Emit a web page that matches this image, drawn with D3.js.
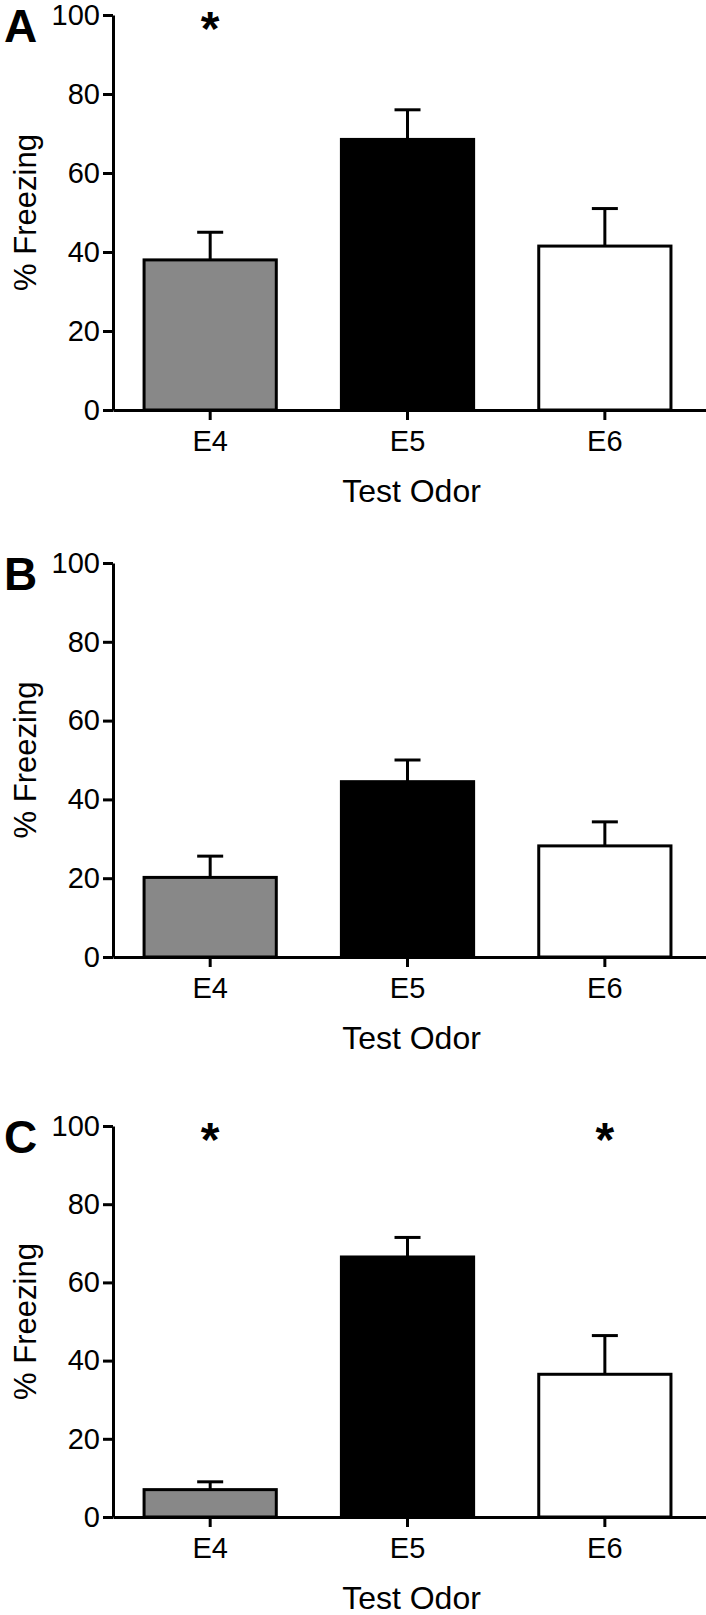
<!DOCTYPE html>
<html lang="en">
<head>
    <meta charset="UTF-8">
    <title>% Freezing by test odor</title>
    <script src="https://d3js.org/d3.v7.min.js"></script>
    <style>
        body { margin: 0; background: #fff; }
        svg text { font-family: "Liberation Sans", Arial, sans-serif; fill: #000; }
    </style>
</head>
<body>
    <svg></svg>
    <script>
        const categories = ["E4", "E5", "E6"];
        const barColors = ["#888888", "#000000", "#ffffff"];
        const yTicks = [0, 20, 40, 60, 80, 100];

        // mean % freezing and upper error (mean + SEM)
        const freezingA = [38, 68.5, 41.5];
        const upperA = [45, 76, 51];
        const starsA = ["E4"];

        const freezingB = [20.2, 44.5, 28.2];
        const upperB = [25.6, 50, 34.3];
        const starsB = [];

        const freezingC = [7, 66.5, 36.5];
        const upperC = [9, 71.5, 46.4];
        const starsC = ["E4", "E6"];

        const svgWidth = 706;
        const svgHeight = 1615;
        const axisX = 113;

        const svg = d3.select('svg')
            .attr("width", svgWidth)
            .attr("height", svgHeight);

        const xScale = d3.scaleBand()
            .domain(categories)
            .range([axisX, svgWidth])
            .paddingInner(0.33)
            .paddingOuter(0.1675)
            .align(0.47);

        function drawPanel(letter, values, upper, stars, top, bottom) {
            const g = svg.append("g");
            const yScale = d3.scaleLinear().domain([0, 100]).range([bottom, top]);

            // bars
            g.selectAll("rect")
                .data(values)
                .enter()
                .append("rect")
                .attr("x", (d, i) => xScale(categories[i]))
                .attr("y", d => yScale(d))
                .attr("width", xScale.bandwidth())
                .attr("height", d => yScale(0) - yScale(d))
                .attr("fill", (d, i) => barColors[i])
                .attr("stroke", "#000")
                .attr("stroke-width", 3);

            // upper error bars
            const cx = (d, i) => xScale(categories[i]) + xScale.bandwidth() / 2;
            g.selectAll(".err")
                .data(upper)
                .enter()
                .append("line")
                .attr("x1", cx).attr("x2", cx)
                .attr("y1", (d, i) => yScale(values[i]))
                .attr("y2", d => yScale(d))
                .attr("stroke", "#000")
                .attr("stroke-width", 3);
            g.selectAll(".cap")
                .data(upper)
                .enter()
                .append("line")
                .attr("x1", (d, i) => cx(d, i) - 13)
                .attr("x2", (d, i) => cx(d, i) + 13)
                .attr("y1", d => yScale(d))
                .attr("y2", d => yScale(d))
                .attr("stroke", "#000")
                .attr("stroke-width", 3);

            // axes
            const yAxis = g.append("g")
                .attr("transform", `translate(${axisX},0)`)
                .call(d3.axisLeft(yScale).tickValues(yTicks).tickSize(10).tickSizeOuter(0).tickPadding(3));
            const xAxis = g.append("g")
                .attr("transform", `translate(0,${bottom})`)
                .call(d3.axisBottom(xScale).tickSize(10).tickSizeOuter(0).tickPadding(10));

            [yAxis, xAxis].forEach(ax => {
                ax.select(".domain").attr("stroke-width", 3);
                ax.selectAll(".tick line").attr("stroke-width", 3);
                ax.selectAll(".tick text").attr("font-size", 29).attr("font-family", null);
            });

            g.append("text")
                .attr("x", (axisX + svgWidth) / 2 + 2)
                .attr("y", bottom + 92)
                .attr("text-anchor", "middle")
                .attr("font-size", 32)
                .text("Test Odor");

            g.append("text")
                .attr("transform", `translate(36,${(top + bottom) / 2}) rotate(-90)`)
                .attr("text-anchor", "middle")
                .attr("font-size", 31)
                .text("% Freezing");

            g.append("text")
                .attr("x", 4)
                .attr("y", top + 27)
                .attr("font-size", 46)
                .attr("font-weight", "bold")
                .text(letter);

            // significance marks
            g.selectAll(".star")
                .data(stars)
                .enter()
                .append("text")
                .attr("x", d => xScale(d) + xScale.bandwidth() / 2)
                .attr("y", top + 30)
                .attr("text-anchor", "middle")
                .attr("font-size", 48)
                .attr("font-weight", "bold")
                .text("*");
        }

        drawPanel("A", freezingA, upperA, starsA, 15, 410);
        drawPanel("B", freezingB, upperB, starsB, 563, 957);
        drawPanel("C", freezingC, upperC, starsC, 1126, 1517);
    </script>
</body>
</html>
